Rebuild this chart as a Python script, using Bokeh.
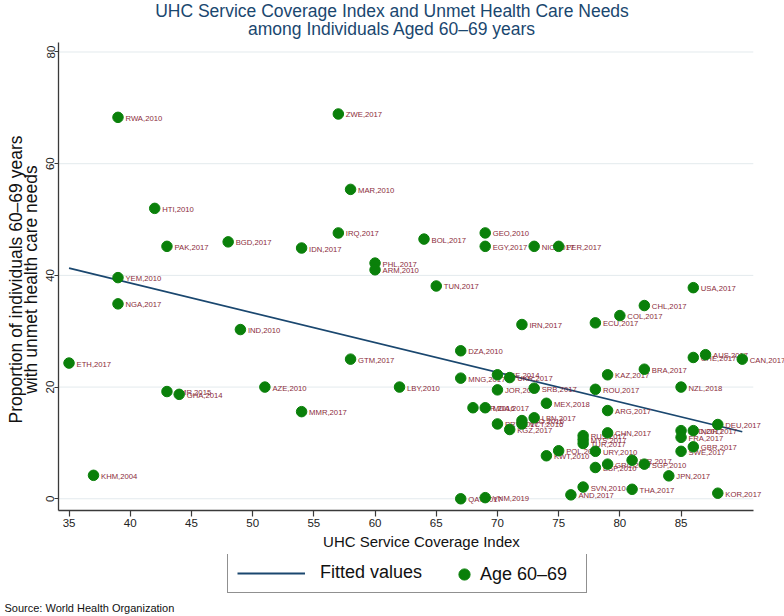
import math
from bokeh.plotting import figure
from bokeh.layouts import column, row
from bokeh.models import Range1d, Label, Legend, LegendItem, FixedTicker, ColumnDataSource
from bokeh.core.properties import value
from bokeh.embed import file_html
from bokeh.resources import INLINE

# ---- data ----
codes = ["RWA,2010", "ZWE,2017", "MAR,2010", "HTI,2010", "IRQ,2017", "PAK,2017", "BGD,2017",
         "IDN,2017", "PHL,2017", "ARM,2010", "BOL,2017", "GEO,2010", "EGY,2017", "NIC,2017",
         "PER,2017", "YEM,2010", "NGA,2017", "TUN,2017", "IND,2010", "ETH,2017", "GTM,2017",
         "KHM,2004", "AZE,2010", "CMR,2015", "GHA,2014", "MMR,2017", "LBY,2010", "IRN,2017",
         "ECU,2017", "USA,2017", "CHL,2017", "COL,2017", "DZA,2010", "MNG,2017", "PSE,2014",
         "UKR,2017", "JOR,2017", "SRB,2017", "ROU,2017", "KAZ,2017", "BRA,2017", "CHE,2017",
         "AUS,2017", "CAN,2017", "NZL,2018", "MEX,2018", "ARG,2017", "BLR,2016", "MDA,2017",
         "PRY,2017", "KGZ,2017", "TTO,2016", "VCT,2016", "LBN,2017", "RUS,2017", "MYS,2017",
         "TUR,2017", "CHN,2017", "URY,2010", "POL,2017", "KWT,2010", "ESP,2010", "GRC,2017",
         "ISR,2017", "SGP,2010", "JPN,2017", "SVN,2010", "AND,2017", "THA,2017", "KOR,2017",
         "QAT,2017", "VNM,2019", "DEU,2017", "NLD,2017", "NOR,2017", "FRA,2017", "GBR,2017",
         "SWE,2017"]
uhc_index = [39, 57, 58, 42, 57, 43, 48,
             54, 60, 60, 64, 69, 69, 73,
             75, 39, 39, 65, 49, 35, 58,
             37, 51, 43, 44, 54, 62, 72,
             78, 86, 82, 80, 67, 67, 70,
             71, 70, 73, 78, 79, 82, 86,
             87, 90, 85, 74, 79, 68, 69,
             70, 71, 72, 72, 73, 77, 77,
             77, 79, 78, 75, 74, 78, 79,
             81, 82, 84, 77, 76, 81, 88,
             67, 69, 88, 85, 86, 85, 86,
             85]
unmet_share = [68.3, 68.9, 55.4, 52.0, 47.6, 45.2, 46.0,
               44.9, 42.2, 41.0, 46.5, 47.6, 45.2, 45.2,
               45.2, 39.6, 34.9, 38.1, 30.3, 24.3, 25.0,
               4.2, 20.0, 19.2, 18.7, 15.6, 20.0, 31.2,
               31.5, 37.8, 34.6, 32.8, 26.5, 21.6, 22.2,
               21.7, 19.5, 19.8, 19.6, 22.2, 23.2, 25.3,
               25.8, 25.0, 20.0, 17.1, 15.8, 16.3, 16.3,
               13.4, 12.4, 14.0, 13.4, 14.5, 11.3, 10.6,
               9.9, 11.8, 8.5, 8.6, 7.7, 5.6, 6.2,
               6.9, 6.2, 4.1, 2.1, 0.7, 1.7, 1.0,
               0.0, 0.2, 13.3, 12.2, 12.2, 11.0, 9.3,
               8.5]
fit_x = [35, 90]
fit_y = [41.3, 12.0]
x_ticks = [35, 40, 45, 50, 55, 60, 65, 70, 75, 80, 85]
y_ticks = [0, 20, 40, 60, 80]

# axis extents
X_LO, X_AXIS_HI, X_VIEW_HI = 34.14, 90.9, 93.45
Y_LO, Y_HI = -2.1, 81.7

FONT = "Liberation Sans"
NAVY = "#1a476f"
GREEN = "#0a800a"
MAROON = "#8b2c3a"
INK = "#111111"

W, H = 784, 616
TOP_H = 42
LEFT_W = 41
MAIN_H = 512
BOTTOM_H = H - TOP_H - MAIN_H


def blank(width, height):
    f = figure(width=width, height=height, output_backend="svg", toolbar_location=None,
               x_axis_type=None, y_axis_type=None, x_range=Range1d(0, 1), y_range=Range1d(0, 1),
               min_border=0)
    f.title.visible = False
    f.outline_line_color = None
    f.xgrid.visible = False
    f.ygrid.visible = False
    f.background_fill_color = "white"
    f.border_fill_color = "white"
    return f


# ---- main plot ----
p = figure(width=W - LEFT_W, height=MAIN_H, output_backend="svg", toolbar_location=None,
           x_range=Range1d(X_LO, X_VIEW_HI), y_range=Range1d(Y_LO, Y_HI),
           min_border_left=17, min_border_right=0, min_border_top=0, min_border_bottom=44)
p.title.visible = False
p.outline_line_color = None
p.background_fill_color = "white"
p.border_fill_color = "white"

p.xgrid.visible = False
p.ygrid.visible = False
p.segment(x0=X_LO, x1=X_AXIS_HI, y0=y_ticks, y1=y_ticks, line_color="#e3eaed", line_width=1)

p.xaxis.ticker = FixedTicker(ticks=x_ticks)
p.yaxis.ticker = FixedTicker(ticks=y_ticks)
p.xaxis.bounds = (X_LO, X_AXIS_HI)
for ax in (p.xaxis, p.yaxis):
    ax.axis_line_color = "#3a3a3a"
    ax.axis_line_width = 1.3
    ax.major_tick_line_color = "#3a3a3a"
    ax.major_tick_line_width = 1.2
    ax.major_tick_in = 0
    ax.minor_tick_line_color = None
    ax.major_label_text_font = FONT
    ax.major_label_text_font_size = "11.5px"
    ax.major_label_text_color = "#222222"
p.xaxis.major_tick_out = 6
p.xaxis.major_label_standoff = 2
p.yaxis.major_tick_out = 4
p.yaxis.major_label_standoff = 0
p.yaxis.major_label_orientation = "vertical"

p.xaxis.axis_label = "UHC Service Coverage Index"
p.xaxis.axis_label_text_font = FONT
p.xaxis.axis_label_text_font_style = "normal"
p.xaxis.axis_label_text_font_size = "15px"
p.xaxis.axis_label_text_color = INK
p.xaxis.axis_label_standoff = 3

src = ColumnDataSource(dict(x=uhc_index, y=unmet_share, lab=codes))

p.line(fit_x, fit_y, line_color=NAVY, line_width=1.7)
p.text("x", "y", text="lab", source=src, x_offset=7.5, y_offset=1,
       text_font=value(FONT), text_font_size="7.7px", text_color=MAROON,
       text_baseline="middle", text_align="left")
p.scatter("x", "y", source=src, size=10.5, fill_color=GREEN, line_color=GREEN)

# ---- title strip ----
top = blank(W, TOP_H)
top.add_layout(Label(x=391.5, y=TOP_H - 10, x_units="screen", y_units="screen",
                     text="UHC Service Coverage Index and Unmet Health Care Needs",
                     text_align="center", text_baseline="middle",
                     text_font=FONT, text_font_size="17.5px", text_color=NAVY))
top.add_layout(Label(x=391.5, y=TOP_H - 28, x_units="screen", y_units="screen",
                     text="among Individuals Aged 60–69 years",
                     text_align="center", text_baseline="middle",
                     text_font=FONT, text_font_size="17.5px", text_color=NAVY))

# ---- y axis title strip ----
left = blank(LEFT_W, MAIN_H)
left.add_layout(Label(x=15, y=MAIN_H - 281, x_units="screen", y_units="screen", angle=math.pi / 2,
                      text="Proportion of individuals 60–69 years",
                      text_align="center", text_baseline="middle",
                      text_font=FONT, text_font_size="17.5px", text_color=INK))
left.add_layout(Label(x=30.5, y=MAIN_H - 281, x_units="screen", y_units="screen", angle=math.pi / 2,
                      text="with unmet health care needs",
                      text_align="center", text_baseline="middle",
                      text_font=FONT, text_font_size="17.5px", text_color=INK))

# ---- legend and source strip (data drawn outside this strip's view) ----
bottom = blank(W, BOTTOM_H)
leg_line = bottom.line(fit_x, fit_y, line_color=NAVY, line_width=2)
leg_dot = bottom.scatter(uhc_index, unmet_share, fill_color=GREEN, line_color=GREEN)
leg1 = Legend(items=[LegendItem(label="Fitted values", renderers=[leg_line])],
              location=(227, BOTTOM_H - 39), orientation="horizontal",
              glyph_width=68, glyph_height=20, label_width=257, label_height=20,
              label_standoff=15, padding=9, spacing=0, margin=0,
              border_line_color="#222222", border_line_width=1,
              background_fill_color="white", background_fill_alpha=1,
              label_text_font=FONT, label_text_font_size="18px", label_text_color=INK)
leg2 = Legend(items=[LegendItem(label="Age 60–69", renderers=[leg_dot])],
              location=(450, BOTTOM_H - 34), orientation="horizontal",
              glyph_width=28, glyph_height=28, label_height=28,
              label_standoff=2, padding=0, spacing=0, margin=0,
              border_line_color=None, background_fill_alpha=0,
              label_text_font=FONT, label_text_font_size="18px", label_text_color=INK)
bottom.add_layout(leg1, "center")
bottom.add_layout(leg2, "center")
bottom.add_layout(Label(x=4, y=9, x_units="screen", y_units="screen",
                        text="Source: World Health Organization",
                        text_align="left", text_baseline="middle",
                        text_font=FONT, text_font_size="11px", text_color=INK))

page = column(top, row(left, p), bottom)
open("out.html", "w").write(file_html(page, INLINE))
